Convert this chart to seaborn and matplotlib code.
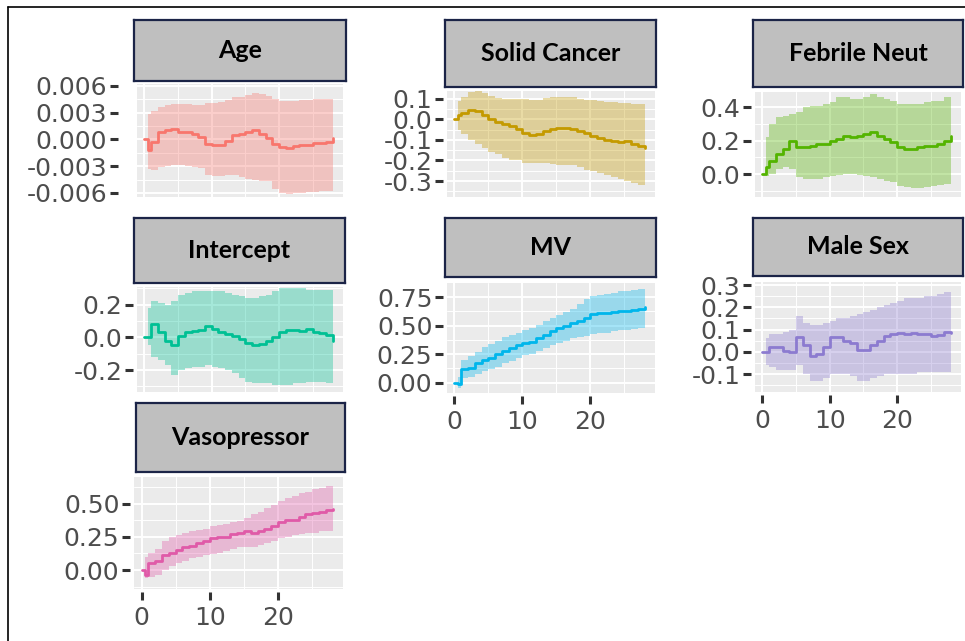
import numpy as np
import pandas as pd
import matplotlib
matplotlib.use("Agg")
import matplotlib.pyplot as plt
from matplotlib.ticker import FixedLocator, FormatStrFormatter
from matplotlib.lines import Line2D
import seaborn as sns

# time axis shared by every panel (days)
days = [0, 0.5, 1, 2, 3, 4, 5, 6, 7, 8, 9, 10, 11, 12, 13, 14,
        15, 16, 17, 18, 19, 20, 21, 22, 23, 24, 25, 26, 27, 28]

# cumulative coefficient estimates and their confidence band
age_est = [0.0, -0.0012, -0.0003, 0.0008, 0.0010, 0.0012, 0.0008, 0.0008, 0.0006, 0.0003,
           -0.0005, -0.0006, -0.0006, -0.0002, 0.0005, 0.0006, 0.0008, 0.0011, 0.0006, 0.0002,
           -0.0005, -0.0009, -0.0010, -0.0007, -0.0006, -0.0006, -0.0004, -0.0004, -0.0003, 0.0002]
age_hi = [0.0, 0.0028, 0.0032, 0.0036, 0.0039, 0.0040, 0.0040, 0.0040, 0.0039, 0.0039,
          0.0041, 0.0041, 0.0042, 0.0044, 0.0047, 0.0048, 0.0050, 0.0052, 0.0051, 0.0049,
          0.0045, 0.0043, 0.0043, 0.0043, 0.0044, 0.0044, 0.0045, 0.0045, 0.0045, 0.0046]
age_lo = [0.0, -0.0033, -0.0034, -0.0031, -0.0030, -0.0029, -0.0029, -0.0030, -0.0031, -0.0032,
          -0.0040, -0.0041, -0.0041, -0.0040, -0.0040, -0.0042, -0.0044, -0.0046, -0.0047, -0.0047,
          -0.0055, -0.0060, -0.0061, -0.0060, -0.0060, -0.0059, -0.0059, -0.0058, -0.0058, -0.0058]

solid_est = [0.0, 0.02, 0.03, 0.045, 0.04, 0.02, 0.0, -0.015, -0.025, -0.035,
             -0.045, -0.065, -0.075, -0.07, -0.055, -0.045, -0.04, -0.04, -0.045, -0.055,
             -0.065, -0.08, -0.09, -0.10, -0.105, -0.11, -0.105, -0.12, -0.13, -0.14]
solid_hi = [0.0, 0.09, 0.11, 0.13, 0.135, 0.125, 0.115, 0.105, 0.10, 0.10,
            0.10, 0.10, 0.095, 0.095, 0.105, 0.11, 0.11, 0.11, 0.11, 0.10,
            0.095, 0.095, 0.09, 0.085, 0.085, 0.08, 0.08, 0.075, 0.075, 0.07]
solid_lo = [0.0, -0.05, -0.07, -0.10, -0.12, -0.14, -0.16, -0.17, -0.19, -0.20,
            -0.20, -0.21, -0.21, -0.21, -0.21, -0.215, -0.22, -0.22, -0.22, -0.23,
            -0.245, -0.25, -0.26, -0.27, -0.28, -0.29, -0.30, -0.31, -0.32, -0.325]

febrile_est = [0.0, 0.04, 0.08, 0.12, 0.15, 0.20, 0.16, 0.16, 0.17, 0.18,
               0.18, 0.20, 0.21, 0.23, 0.22, 0.23, 0.24, 0.25, 0.23, 0.21,
               0.19, 0.16, 0.15, 0.15, 0.16, 0.17, 0.17, 0.18, 0.20, 0.23]
febrile_hi = [0.0, 0.22, 0.30, 0.34, 0.35, 0.36, 0.37, 0.40, 0.41, 0.41,
              0.42, 0.43, 0.46, 0.46, 0.45, 0.45, 0.46, 0.48, 0.46, 0.45,
              0.44, 0.42, 0.42, 0.42, 0.42, 0.43, 0.44, 0.44, 0.46, 0.48]
febrile_lo = [0.0, -0.01, 0.0, 0.03, 0.04, 0.03, -0.02, -0.03, -0.03, -0.03,
              -0.02, -0.01, -0.005, 0.0, 0.0, -0.005, -0.01, -0.02, -0.03, -0.04,
              -0.05, -0.07, -0.08, -0.085, -0.085, -0.08, -0.07, -0.065, -0.06, -0.05]

intercept_est = [0.0, 0.0, 0.08, 0.03, -0.02, -0.05, 0.01, 0.03, 0.04, 0.045,
                 0.07, 0.05, 0.035, 0.02, 0.01, -0.01, -0.035, -0.045, -0.04, -0.02,
                 0.0, 0.035, 0.045, 0.045, 0.04, 0.05, 0.035, 0.025, 0.015, -0.02]
intercept_hi = [0.0, 0.18, 0.22, 0.21, 0.20, 0.22, 0.26, 0.27, 0.28, 0.28,
                0.28, 0.28, 0.28, 0.27, 0.26, 0.25, 0.24, 0.24, 0.25, 0.26,
                0.28, 0.30, 0.30, 0.30, 0.30, 0.29, 0.29, 0.29, 0.29, 0.28]
intercept_lo = [0.0, -0.05, -0.12, -0.14, -0.17, -0.23, -0.20, -0.19, -0.18, -0.18,
                -0.17, -0.18, -0.19, -0.20, -0.22, -0.25, -0.27, -0.28, -0.28, -0.28,
                -0.29, -0.29, -0.29, -0.28, -0.28, -0.27, -0.27, -0.27, -0.28, -0.28]

mv_est = [0.0, -0.01, 0.12, 0.13, 0.17, 0.20, 0.22, 0.25, 0.28, 0.30,
          0.33, 0.35, 0.36, 0.39, 0.42, 0.45, 0.48, 0.50, 0.52, 0.54,
          0.57, 0.60, 0.61, 0.61, 0.62, 0.63, 0.63, 0.64, 0.65, 0.66]
mv_hi = [0.0, 0.05, 0.20, 0.23, 0.27, 0.31, 0.34, 0.37, 0.40, 0.42,
         0.44, 0.46, 0.48, 0.51, 0.54, 0.57, 0.59, 0.62, 0.65, 0.69,
         0.73, 0.76, 0.77, 0.78, 0.79, 0.80, 0.80, 0.81, 0.82, 0.83]
mv_lo = [0.0, -0.05, 0.04, 0.05, 0.08, 0.10, 0.12, 0.14, 0.17, 0.19,
         0.22, 0.24, 0.25, 0.28, 0.30, 0.33, 0.35, 0.37, 0.39, 0.40,
         0.41, 0.43, 0.44, 0.44, 0.45, 0.46, 0.46, 0.47, 0.48, 0.49]

male_est = [0.0, 0.0, 0.02, 0.02, 0.005, 0.0, 0.065, 0.03, -0.02, -0.01,
            0.02, 0.065, 0.065, 0.05, 0.04, 0.01, 0.01, 0.03, 0.05, 0.07,
            0.08, 0.085, 0.08, 0.085, 0.08, 0.08, 0.07, 0.075, 0.09, 0.085]
male_hi = [0.0, 0.06, 0.08, 0.08, 0.09, 0.10, 0.16, 0.13, 0.12, 0.12,
           0.13, 0.14, 0.15, 0.15, 0.16, 0.17, 0.18, 0.19, 0.20, 0.21,
           0.22, 0.23, 0.24, 0.24, 0.24, 0.25, 0.25, 0.26, 0.27, 0.28]
male_lo = [0.0, -0.06, -0.07, -0.08, -0.08, -0.08, -0.06, -0.10, -0.13, -0.13,
           -0.12, -0.10, -0.10, -0.10, -0.11, -0.13, -0.13, -0.12, -0.11, -0.10,
           -0.10, -0.10, -0.10, -0.10, -0.09, -0.09, -0.09, -0.09, -0.09, -0.09]

vaso_est = [0.0, -0.04, 0.05, 0.07, 0.11, 0.13, 0.15, 0.175, 0.18, 0.20,
            0.22, 0.24, 0.25, 0.25, 0.27, 0.28, 0.29, 0.28, 0.295, 0.31,
            0.33, 0.36, 0.375, 0.38, 0.40, 0.42, 0.43, 0.44, 0.45, 0.46]
vaso_hi = [0.0, 0.10, 0.13, 0.16, 0.22, 0.25, 0.26, 0.28, 0.29, 0.30,
           0.31, 0.33, 0.34, 0.35, 0.36, 0.37, 0.39, 0.42, 0.44, 0.47,
           0.49, 0.52, 0.54, 0.56, 0.58, 0.59, 0.61, 0.62, 0.63, 0.64]
vaso_lo = [0.0, -0.06, -0.05, -0.04, 0.0, 0.03, 0.05, 0.07, 0.09, 0.10,
           0.11, 0.12, 0.13, 0.14, 0.16, 0.17, 0.175, 0.175, 0.19, 0.20,
           0.22, 0.24, 0.25, 0.26, 0.27, 0.28, 0.28, 0.29, 0.29, 0.29]

# y tick values per panel
age_ticks = [-0.006, -0.003, 0.0, 0.003, 0.006]
solid_ticks = [-0.3, -0.2, -0.1, 0.0, 0.1]
febrile_ticks = [0.0, 0.2, 0.4]
intercept_ticks = [-0.2, 0.0, 0.2]
mv_ticks = [0.0, 0.25, 0.5, 0.75]
male_ticks = [-0.1, 0.0, 0.1, 0.2, 0.3]
vaso_ticks = [0.0, 0.25, 0.5]
x_ticks = [0, 10, 20]

W, H = 965, 641

# name, est, lo, hi, yticks, decimals, colour, panel box px, strip box px, ylim, show x labels, tick offset
panels = [
    ("Age", age_est, age_lo, age_hi, age_ticks, 3, "#F8766D",
     (137, 84, 343, 197), (134, 20, 346, 81), (-0.00645, 0.0062), False, 14),
    ("Solid Cancer", solid_est, solid_lo, solid_hi, solid_ticks, 1, "#C49A00",
     (447, 91, 655, 197), (445, 20, 656, 87), (-0.377, 0.137), False, 3),
    ("Febrile Neut", febrile_est, febrile_lo, febrile_hi, febrile_ticks, 1, "#53B400",
     (755, 92, 961, 197), (753, 20, 963, 87), (-0.138, 0.492), False, 3),
    ("Intercept", intercept_est, intercept_lo, intercept_hi, intercept_ticks, 1, "#00C094",
     (137, 287, 343, 392), (134, 218, 345, 283), (-0.334, 0.307), False, 3),
    ("MV", mv_est, mv_lo, mv_hi, mv_ticks, 2, "#00B6EB",
     (447, 283, 655, 393), (445, 218, 656, 277), (-0.09, 0.874), True, 3),
    ("Male Sex", male_est, male_lo, male_hi, male_ticks, 1, "#8C7BD0",
     (755, 282, 961, 392), (753, 218, 963, 276), (-0.181, 0.314), True, 3),
    ("Vasopressor", vaso_est, vaso_lo, vaso_hi, vaso_ticks, 2, "#E05AA8",
     (134, 477, 343, 589), (136, 403, 345, 472), (-0.143, 0.70), True, 3),
]

sns.set_theme(style="ticks")
plt.rcParams["font.family"] = ["DejaVu Sans"]
plt.rcParams["axes.unicode_minus"] = False


def box(x0, y0, x1, y1):
    return [x0 / W, 1 - y1 / H, (x1 - x0) / W, (y1 - y0) / H]


fig = plt.figure(figsize=(W / 100, H / 100), dpi=100)
fig.patch.set_facecolor("white")

for name, est, lo, hi, yt, dec, col, pbox, sbox, ylim, xlab, off in panels:
    df = pd.DataFrame({"day": days, "est": est, "lo": lo, "hi": hi})

    ax = fig.add_axes(box(*pbox))
    ax.set_facecolor("#EBEBEB")
    ax.fill_between(df["day"], df["lo"], df["hi"], step="post", color=col, alpha=0.35, lw=0)
    sns.lineplot(data=df, x="day", y="est", ax=ax, color=col, lw=2.0,
                 drawstyle="steps-post", legend=False)
    ax.set(xlabel="", ylabel="")
    ax.set_xlim(-1.1, 29.5)
    ax.set_ylim(*ylim)

    # ggplot style grid: white major and minor lines on grey
    step = yt[1] - yt[0]
    ext = [yt[0] - step] + list(yt) + [yt[-1] + step]
    yminor = [(a + b) / 2 for a, b in zip(ext[:-1], ext[1:]) if ylim[0] < (a + b) / 2 < ylim[1]]
    ax.yaxis.set_major_locator(FixedLocator(yt))
    ax.yaxis.set_minor_locator(FixedLocator(yminor))
    ax.yaxis.set_major_formatter(FormatStrFormatter("%." + str(dec) + "f"))
    ax.xaxis.set_major_locator(FixedLocator(x_ticks))
    ax.xaxis.set_minor_locator(FixedLocator([5, 15, 25]))
    ax.set_axisbelow(True)
    ax.grid(which="major", color="white", lw=1.4)
    ax.grid(which="minor", color="white", lw=0.7)

    for sp in ax.spines.values():
        sp.set_visible(False)
    ax.spines["left"].set_position(("outward", off))
    ax.spines["bottom"].set_position(("outward", 2))

    ax.tick_params(which="minor", length=0)
    ax.tick_params(axis="y", which="major", left=True, length=5.5, width=2.2, color="#333333",
                   labelsize=18, labelcolor="#4D4D4D", pad=2)
    if xlab:
        ax.tick_params(axis="x", which="major", bottom=True, length=5.5, width=2.2,
                       color="#333333", labelsize=18, labelcolor="#4D4D4D", pad=5)
    else:
        ax.tick_params(axis="x", which="major", length=0, labelbottom=False)

    # facet strip
    sx = fig.add_axes(box(*sbox))
    sx.set_facecolor("#BFBFBF")
    sx.set_xticks([])
    sx.set_yticks([])
    for sp in sx.spines.values():
        sp.set_visible(True)
        sp.set_color("#1B2447")
        sp.set_linewidth(1.6)
    sx.text(0.5, 0.5, name, ha="center", va="center", fontsize=18,
            fontweight="bold", family=["Lato", "DejaVu Sans"], color="black",
            transform=sx.transAxes)

# thin frame along top and left edges of the screenshot
fig.add_artist(Line2D([8 / W, 1], [1 - 7 / H, 1 - 7 / H], color="black", lw=1.2,
                      transform=fig.transFigure))
fig.add_artist(Line2D([8 / W, 8 / W], [0, 1 - 7 / H], color="black", lw=1.2,
                      transform=fig.transFigure))

fig.savefig("out.png", dpi=100)
